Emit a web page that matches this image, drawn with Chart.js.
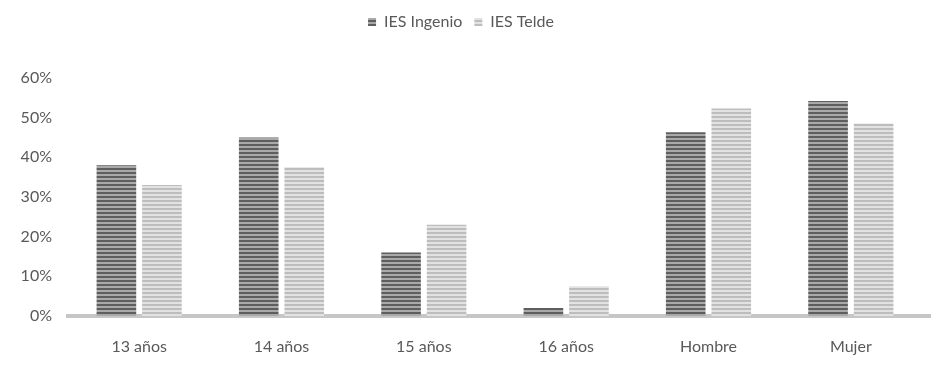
<!DOCTYPE html>
<html>
<head>
<meta charset="utf-8">
<script src="https://cdn.jsdelivr.net/npm/chart.js@4.4.1/dist/chart.umd.min.js"></script>
<style>
  html, body { margin: 0; padding: 0; background: #fff; }
  #wrap { width: 931px; height: 367px; }
</style>
</head>
<body>
<div id="wrap"><canvas id="chart"></canvas></div>
<script>
    "use strict";

    // data
    const categories = ['13 años', '14 años', '15 años', '16 años', 'Hombre', 'Mujer'];
    const seriesNames = ['IES Ingenio', 'IES Telde'];
    const ingenio = [38, 45, 16, 2, 46.3, 54.2];
    const telde = [33, 37.5, 23, 7.5, 52.3, 48.5];
    const yTicks = [0, 10, 20, 30, 40, 50, 60];

    // horizontal striped fill like the original
    function stripes(dark, light) {
        const c = document.createElement('canvas');
        c.width = 4;
        c.height = 4;
        const g = c.getContext('2d');
        g.fillStyle = light;
        g.fillRect(0, 0, 4, 4);
        g.fillStyle = dark;
        g.fillRect(0, 0, 4, 2);
        return g.createPattern(c, 'repeat');
    }

    const ctx = document.getElementById('chart').getContext('2d');
    const ingenioFill = stripes('#5e5e5e', '#a9a9a9');
    const teldeFill = stripes('#bdbdbd', '#e2e2e2');
    const axisColor = '#c6c6c6';

    const labelFont = { family: 'Lato, "Open Sans", sans-serif', size: 16 };

    // extra room under the legend
    const legendGap = {
        id: 'legendGap',
        afterInit: function(chart) {
            const fit = chart.legend.fit;
            chart.legend.fit = function() {
                fit.bind(chart.legend)();
                this.height += 38;
            };
        }
    };

    // category axis line runs on to the right edge
    const axisRun = {
        id: 'axisRun',
        afterDraw: function(chart) {
            const y = chart.scales.y.getPixelForValue(0);
            const g = chart.ctx;
            g.save();
            g.strokeStyle = axisColor;
            g.lineWidth = 4;
            g.beginPath();
            g.moveTo(chart.chartArea.right, y);
            g.lineTo(chart.width, y);
            g.stroke();
            g.restore();
        }
    };

    new Chart(ctx, {
        type: 'bar',
        data: {
            labels: categories,
            datasets: [{
                label: seriesNames[0],
                data: ingenio,
                backgroundColor: ingenioFill,
                borderWidth: 0,
                categoryPercentage: 0.64,
                barPercentage: 0.87
            }, {
                label: seriesNames[1],
                data: telde,
                backgroundColor: teldeFill,
                borderWidth: 0,
                categoryPercentage: 0.64,
                barPercentage: 0.87
            }]
        },
        options: {
            responsive: true,
            maintainAspectRatio: false,
            animation: false,
            layout: {
                padding: { left: 0, right: 9, top: 2, bottom: 0 }
            },
            plugins: {
                tooltip: { enabled: false },
                legend: {
                    position: 'top',
                    labels: {
                        boxWidth: 8,
                        boxHeight: 8,
                        color: '#595959',
                        font: labelFont,
                        padding: 12
                    }
                }
            },
            scales: {
                x: {
                    grid: { display: false, drawTicks: false },
                    border: { display: true, color: axisColor, width: 4 },
                    ticks: { color: '#595959', font: labelFont, padding: 21 },
                    afterFit: function(scale) { scale.height = 51; }
                },
                y: {
                    min: 0,
                    max: 60,
                    grid: { display: false, drawTicks: false },
                    border: { display: false },
                    afterBuildTicks: function(scale) {
                        scale.ticks = yTicks.map(v => ({ value: v }));
                    },
                    ticks: {
                        color: '#595959',
                        font: labelFont,
                        padding: 16,
                        callback: v => v + '%'
                    },
                    afterFit: function(scale) { scale.width = 68; }
                }
            }
        },
        plugins: [legendGap, axisRun]
    });
</script>
</body>
</html>
